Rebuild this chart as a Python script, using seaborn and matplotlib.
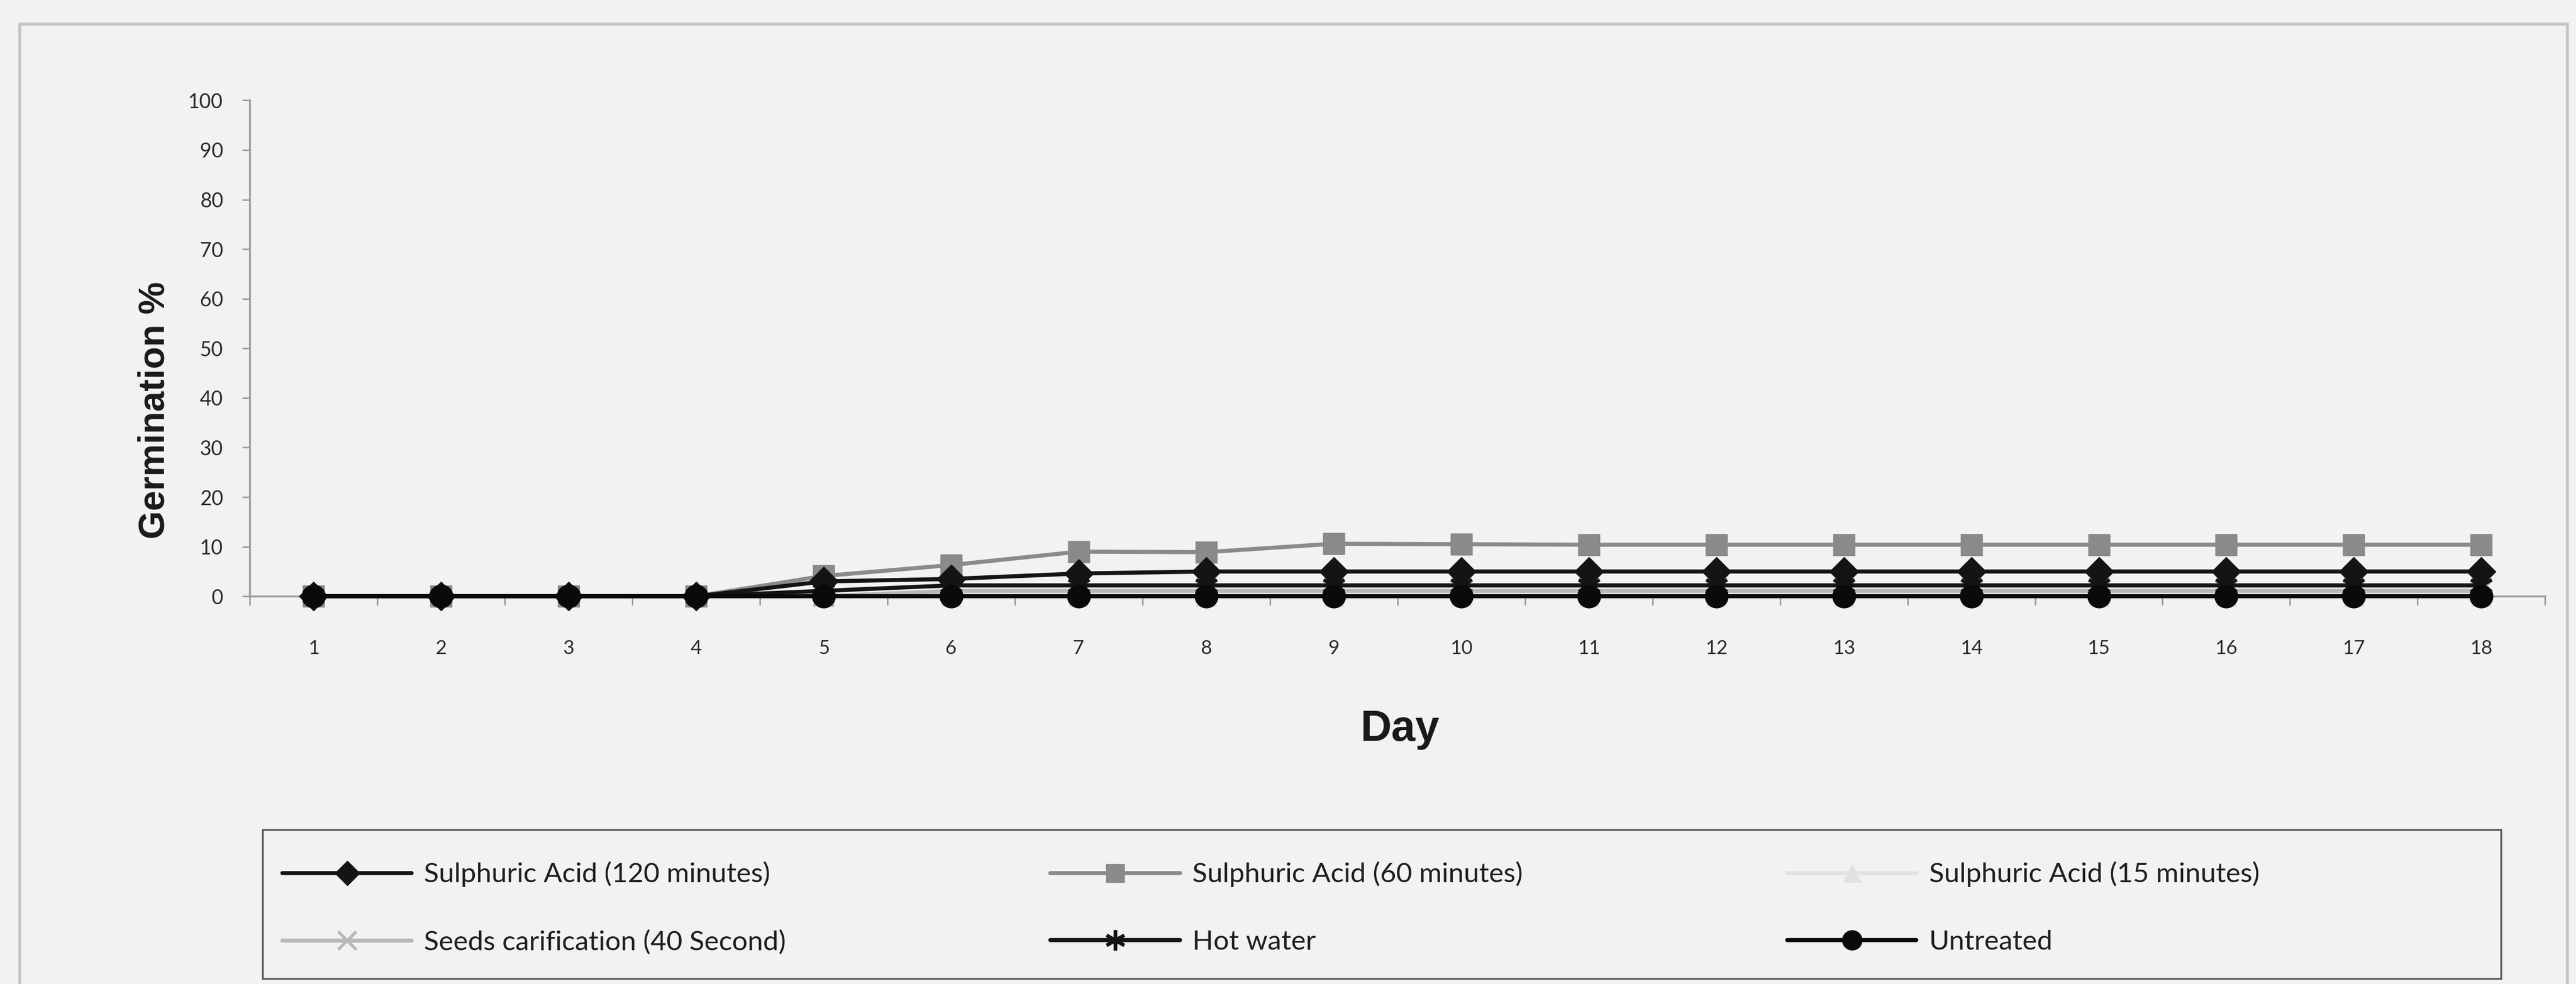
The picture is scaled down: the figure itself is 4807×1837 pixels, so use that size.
import matplotlib
matplotlib.use("Agg")
import matplotlib.pyplot as plt
import seaborn as sns
import pandas as pd
from matplotlib.patches import Rectangle

# Germination trial: cumulative germination % per day and seed treatment
days = list(range(1, 19))
acid_120 = [0, 0, 0, 0, 3.0, 3.5, 4.6, 5.0, 5.0, 5.0, 5.0, 5.0, 5.0, 5.0, 5.0, 5.0, 5.0, 5.0]
acid_60 = [0, 0, 0, 0, 4.1, 6.3, 9.0, 8.9, 10.6, 10.5, 10.4, 10.4, 10.4, 10.4, 10.4, 10.4, 10.4, 10.4]
acid_15 = [0, 0, 0, 0, 0, 0, 0, 0, 0, 0, 0, 0, 0, 0, 0, 0, 0, 0]
scarification = [0, 0, 0, 0, 0, 1.1, 1.1, 1.1, 1.1, 1.1, 1.1, 1.1, 1.1, 1.1, 1.1, 1.1, 1.1, 1.1]
hot_water = [0, 0, 0, 0, 1.1, 2.2, 2.2, 2.2, 2.2, 2.2, 2.2, 2.2, 2.2, 2.2, 2.2, 2.2, 2.2, 2.2]
untreated = [0, 0, 0, 0, 0, 0, 0, 0, 0, 0, 0, 0, 0, 0, 0, 0, 0, 0]

labels = [
    "Sulphuric Acid (120 minutes)",
    "Sulphuric Acid (60 minutes)",
    "Sulphuric Acid (15 minutes)",
    "Seeds carification (40 Second)",
    "Hot water",
    "Untreated",
]
series = [acid_120, acid_60, acid_15, scarification, hot_water, untreated]

df = pd.DataFrame(
    [(d, v, lab) for lab, vals in zip(labels, series) for d, v in zip(days, vals)],
    columns=["Day", "Germination", "Treatment"],
)

styles = {
    "Sulphuric Acid (15 minutes)": dict(color="#e2e2e2", marker="^", ms=28, mew=1),
    "Seeds carification (40 Second)": dict(color="#b8b8b8", marker="x", ms=28, mew=4),
    "Sulphuric Acid (60 minutes)": dict(color="#8a8a8a", marker="s", ms=29, mew=1),
    "Sulphuric Acid (120 minutes)": dict(color="#141414", marker="D", ms=27, mew=1),
    "Hot water": dict(color="#141414", marker=(6, 2, 0), ms=32, mew=4.5),
    "Untreated": dict(color="#0a0a0a", marker="o", ms=31, mew=1),
}
draw_order = [
    "Sulphuric Acid (15 minutes)",
    "Seeds carification (40 Second)",
    "Sulphuric Acid (60 minutes)",
    "Sulphuric Acid (120 minutes)",
    "Hot water",
    "Untreated",
]

sns.set_theme(style="white")
plt.rcParams["font.family"] = ["Lato", "DejaVu Sans"]

bg = "#f2f2f2"
fig = plt.figure(figsize=(48.07, 18.37), dpi=100, facecolor=bg)
ax = fig.add_axes([0.097, 0.394, 0.891, 0.504])
ax.set_facecolor(bg)

for name in draw_order:
    st = styles[name]
    sns.lineplot(
        data=df[df["Treatment"] == name], x="Day", y="Germination", ax=ax,
        color=st["color"], linewidth=5.5, marker=st["marker"],
        markersize=st["ms"], markeredgecolor=st["color"],
        markerfacecolor=st["color"], markeredgewidth=st["mew"],
        label=name, clip_on=False, zorder=3,
    )

ax.set_xlim(0.5, 18.5)
ax.set_ylim(0, 100)
ax.set_xticks(days)
ax.set_xticklabels([str(d) for d in days])
ax.set_xticks([d + 0.5 for d in range(0, 19)], minor=True)
ax.set_yticks(range(0, 101, 10))

ax.tick_params(axis="x", which="major", length=0, pad=58, labelsize=26, labelcolor="#2a2a2a")
ax.tick_params(axis="x", which="minor", length=12, width=2, color="#9a9a9a", direction="out", bottom=True)
ax.tick_params(axis="y", which="major", length=10, width=2, color="#9a9a9a", direction="out",
               pad=26, labelsize=27, labelcolor="#2a2a2a", left=True)

for side in ("top", "right"):
    ax.spines[side].set_visible(False)
for side in ("left", "bottom"):
    ax.spines[side].set_color("#9a9a9a")
    ax.spines[side].set_linewidth(2.5)

ax.set_xlabel("Day", fontsize=58, fontweight="bold", family=["Liberation Sans", "DejaVu Sans"],
              color="#1a1a1a")
ax.set_ylabel("Germination %", fontsize=49, fontweight="bold", family=["Liberation Sans", "DejaVu Sans"],
              color="#1a1a1a")
ax.xaxis.set_label_coords(0.501, -0.228)
ax.yaxis.set_label_coords(-0.034, 0.375)

# legend laid out row by row: three columns, two rows
handles, labs = ax.get_legend_handles_labels()
ax.get_legend().remove()
lookup = dict(zip(labs, handles))
order = [
    "Sulphuric Acid (120 minutes)", "Seeds carification (40 Second)",
    "Sulphuric Acid (60 minutes)", "Hot water",
    "Sulphuric Acid (15 minutes)", "Untreated",
]
leg = fig.legend(
    [lookup[k] for k in order], order, ncol=3, loc="upper left",
    bbox_to_anchor=(0.1096, 0.1245), bbox_transform=fig.transFigure,
    fontsize=37, handlelength=4.7, handletextpad=0.45, columnspacing=9.6,
    labelspacing=1.55, borderpad=0, borderaxespad=0, frameon=False,
    markerscale=0.85,
)
for t in leg.get_texts():
    t.set_color("#1e1e1e")

# legend box
fig.patches.append(Rectangle((0.1019, 0.0054), 0.869, 0.1513, transform=fig.transFigure,
                             fill=False, edgecolor="#5a5a5a", linewidth=2.5))

# chart-area border
fig.patches.append(Rectangle((0.0077, -0.01), 0.989, 0.9855, transform=fig.transFigure,
                             fill=False, edgecolor="#c4c4c4", linewidth=4))

fig.savefig("out.png", dpi=100, facecolor=bg)
